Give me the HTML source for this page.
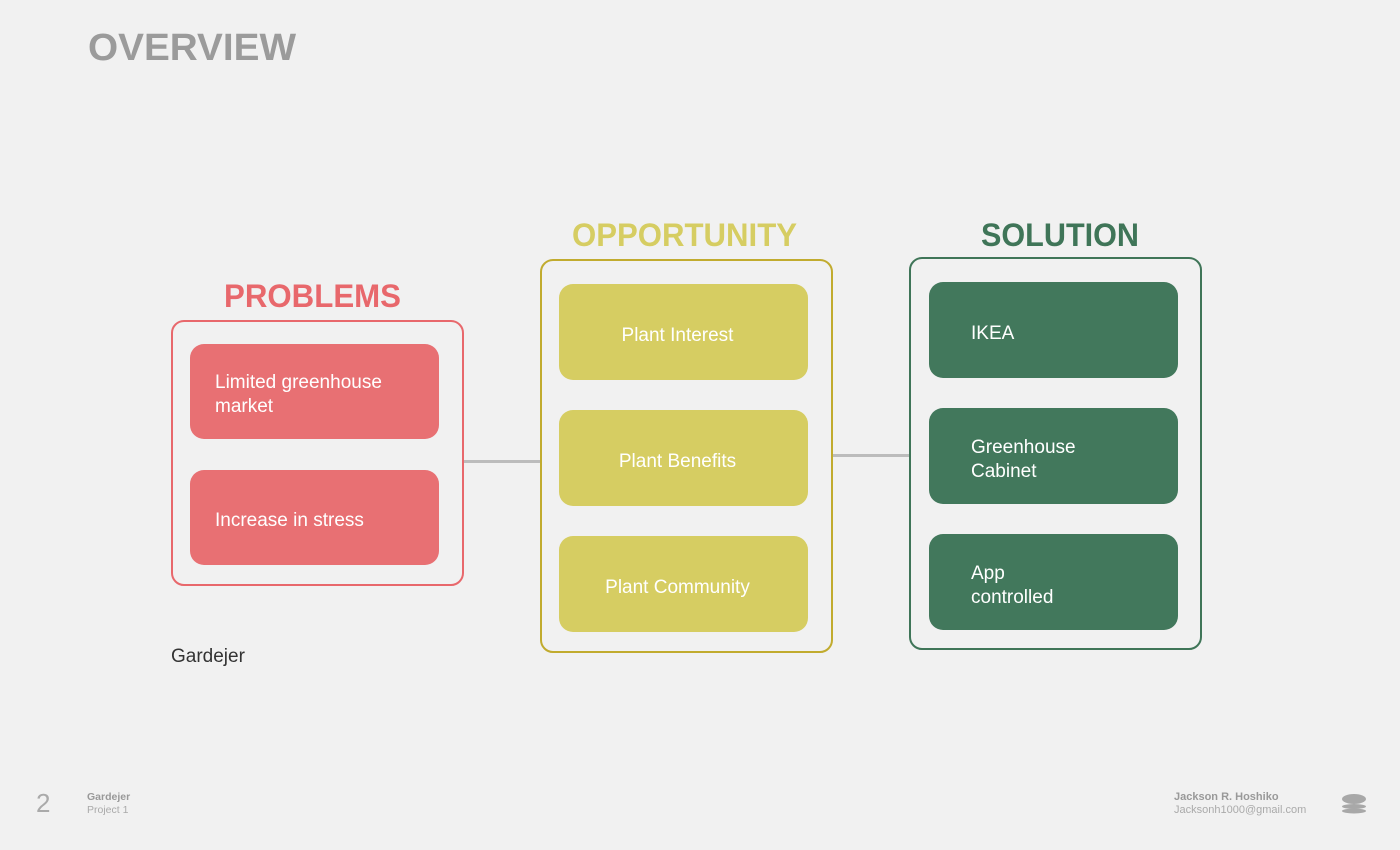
<!DOCTYPE html>
<html><head><meta charset="utf-8"><style>
body{margin:0;width:1400px;height:850px;background:#f1f1f1;position:relative;overflow:hidden;font-family:"Liberation Sans",sans-serif}
.box{position:absolute;border:2px solid;border-radius:13px;box-sizing:border-box}
.card{position:absolute;border-radius:14px;color:#fff;font-size:19px;line-height:24px;box-sizing:border-box;display:flex;align-items:center;padding-top:7px}
.p{background:#e87073;left:190px;width:249px;height:95px;padding-left:25px}
.o{background:#d6cd62;left:559px;width:249px;height:96px;justify-content:center;padding-right:12px}
.s{background:#42785c;left:929px;width:249px;height:96px;padding-left:42px}
.ln{position:absolute;height:3px;background:#bcbcbc}
svg{position:absolute;left:0;top:0}
</style></head><body>
<svg width="1400" height="850">
<text x="88" y="60" font-family="Liberation Sans" font-weight="bold" font-size="38" fill="#9b9b9b" textLength="208" lengthAdjust="spacingAndGlyphs">OVERVIEW</text>
<text x="224" y="307" font-family="Liberation Sans" font-weight="bold" font-size="32" fill="#e8686c" textLength="177" lengthAdjust="spacingAndGlyphs">PROBLEMS</text>
<text x="572" y="246" font-family="Liberation Sans" font-weight="bold" font-size="32" fill="#d6cd62" textLength="225" lengthAdjust="spacingAndGlyphs">OPPORTUNITY</text>
<text x="981" y="246" font-family="Liberation Sans" font-weight="bold" font-size="32" fill="#3f7558" textLength="158" lengthAdjust="spacingAndGlyphs">SOLUTION</text>
<ellipse cx="1354" cy="799" rx="12" ry="5" fill="#a8a8a8"/>
<ellipse cx="1354" cy="806.5" rx="12" ry="2.5" fill="#a8a8a8"/>
<ellipse cx="1354" cy="811" rx="12" ry="2.5" fill="#a8a8a8"/>
</svg>
<div class="ln" style="left:463px;top:460px;width:78px"></div>
<div class="ln" style="left:832px;top:454px;width:78px"></div>
<div class="box" style="left:171px;top:320px;width:293px;height:266px;border-color:#e8686c"></div>
<div class="box" style="left:540px;top:259px;width:293px;height:394px;border-color:#c1ab2e"></div>
<div class="box" style="left:909px;top:257px;width:293px;height:393px;border-color:#3f7558"></div>
<div class="card p" style="top:344px">Limited greenhouse<br>market</div>
<div class="card p" style="top:470px">Increase in stress</div>
<div class="card o" style="top:284px">Plant Interest</div>
<div class="card o" style="top:410px">Plant Benefits</div>
<div class="card o" style="top:536px">Plant Community</div>
<div class="card s" style="top:282px">IKEA</div>
<div class="card s" style="top:408px">Greenhouse<br>Cabinet</div>
<div class="card s" style="top:534px">App<br>controlled</div>
<div style="position:absolute;left:171px;top:646px;font-size:19px;color:#333">Gardejer</div>
<div style="position:absolute;left:36px;top:788px;font-size:26px;color:#aaa">2</div>
<div style="position:absolute;left:87px;top:791px;font-size:10.5px;line-height:13px;color:#999"><b>Gardejer</b><br><span style="color:#aaa">Project 1</span></div>
<div style="position:absolute;left:1174px;top:791px;font-size:11px;line-height:13px;color:#999"><b>Jackson R. Hoshiko</b><br><span style="color:#aaa">Jacksonh1000@gmail.com</span></div>
</body></html>
